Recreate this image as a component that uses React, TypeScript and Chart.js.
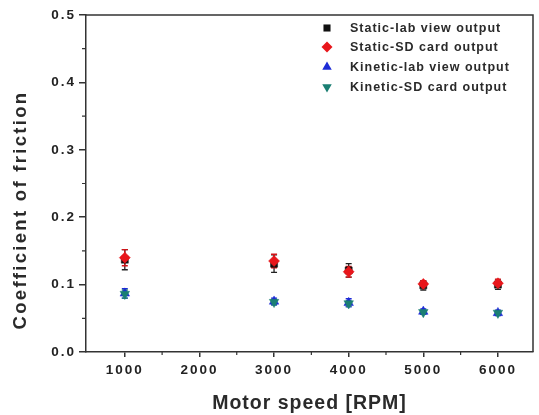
import React, { useEffect, useRef } from 'react';
import { Chart, registerables } from 'chart.js';

Chart.register(...registerables);

const FONT = '"Liberation Sans", Arial, Helvetica, sans-serif';

// ---- data ----
const motorSpeeds = [1000, 3000, 4000, 5000, 6000];

const seriesLabels = [
  'Static-lab view output',
  'Static-SD card output',
  'Kinetic-lab view output',
  'Kinetic-SD card output',
];

const staticLab = [0.137, 0.131, 0.121, 0.099, 0.1];
const staticLabErr = [0.015, 0.013, 0.01, 0.007, 0.007];
const staticSD = [0.14, 0.135, 0.119, 0.101, 0.102];
const staticSDErr = [0.012, 0.01, 0.008, 0.005, 0.006];
const kineticLab = [0.087, 0.075, 0.073, 0.06, 0.058];
const kineticLabErr = [0.007, 0.005, 0.006, 0.004, 0.004];
const kineticSD = [0.086, 0.074, 0.072, 0.059, 0.058];
const kineticSDErr = [0.006, 0.004, 0.004, 0.003, 0.003];

const yMajorTicks = [0, 0.1, 0.2, 0.3, 0.4, 0.5];
const yMinorTicks = [0.05, 0.15, 0.25, 0.35, 0.45];
const xMajorTicks = [1000, 2000, 3000, 4000, 5000, 6000];
const xMinorTicks = [1500, 2500, 3500, 4500, 5500];

const xTitle = 'Motor speed [RPM]';
const yTitle = 'Coefficient of friction';

// ---- styles ----
const seriesValues = [staticLab, staticSD, kineticLab, kineticSD];
const seriesErrors = [staticLabErr, staticSDErr, kineticLabErr, kineticSDErr];
const colors = ['#111111', '#e8161b', '#1d2bd6', '#1b7f73'];
const errColors = ['#222222', '#d01418', '#1d2bd6', '#1b7f73'];
const pointStyles = ['rect', 'rectRot', 'triangle', 'triangle'];
const rotations = [0, 0, 0, 180];
const radii = [5, 5.5, 5.5, 5.5];
const drawOrder = [1, 0, 3, 2];

function drawMarker(ctx: CanvasRenderingContext2D, style: string, rot: number, x: number, y: number, r: number, color: string) {
  ctx.save();
  ctx.fillStyle = color;
  ctx.translate(x, y);
  ctx.rotate((rot * Math.PI) / 180);
  ctx.beginPath();
  if (style === 'rect') {
    const s = r * Math.SQRT1_2;
    ctx.rect(-s, -s, 2 * s, 2 * s);
  } else if (style === 'rectRot') {
    ctx.moveTo(0, -r);
    ctx.lineTo(r, 0);
    ctx.lineTo(0, r);
    ctx.lineTo(-r, 0);
    ctx.closePath();
  } else {
    ctx.moveTo(0, -r);
    ctx.lineTo(r * Math.sin(Math.PI / 3), r * 0.5);
    ctx.lineTo(-r * Math.sin(Math.PI / 3), r * 0.5);
    ctx.closePath();
  }
  ctx.fill();
  ctx.restore();
}

const customPlugin = {
  id: 'custom',
  beforeDraw(chart: any) {
    (chart.ctx as any).letterSpacing = '2px';
  },
  beforeDatasetsDraw(chart: any) {
    const ctx: CanvasRenderingContext2D = chart.ctx;
    const xs = chart.scales.x;
    const ys = chart.scales.y;
    ctx.save();
    ctx.lineWidth = 1.3;
    [0, 1, 2, 3].forEach((i) => {
      ctx.strokeStyle = errColors[i];
      motorSpeeds.forEach((sp, j) => {
        const v = seriesValues[i][j];
        const e = seriesErrors[i][j];
        const px = xs.getPixelForValue(sp);
        const top = ys.getPixelForValue(v + e);
        const bot = ys.getPixelForValue(v - e);
        ctx.beginPath();
        ctx.moveTo(px, top);
        ctx.lineTo(px, bot);
        ctx.moveTo(px - 3, top);
        ctx.lineTo(px + 3, top);
        ctx.moveTo(px - 3, bot);
        ctx.lineTo(px + 3, bot);
        ctx.stroke();
      });
    });
    ctx.restore();
  },
  afterDraw(chart: any) {
    const ctx: CanvasRenderingContext2D = chart.ctx;
    const { left, right, top, bottom } = chart.chartArea;
    const xs = chart.scales.x;
    const ys = chart.scales.y;
    ctx.save();
    ctx.strokeStyle = '#333333';
    ctx.lineWidth = 1.5;
    // frame top & right
    ctx.beginPath();
    ctx.moveTo(left, top);
    ctx.lineTo(right, top);
    ctx.lineTo(right, bottom);
    ctx.stroke();
    // minor ticks
    ctx.lineWidth = 1.2;
    ctx.beginPath();
    yMinorTicks.forEach((v) => {
      const py = ys.getPixelForValue(v);
      ctx.moveTo(left - 4, py);
      ctx.lineTo(left, py);
    });
    xMinorTicks.forEach((v) => {
      const px = xs.getPixelForValue(v);
      ctx.moveTo(px, bottom);
      ctx.lineTo(px, bottom + 3);
    });
    ctx.stroke();

    // axis titles
    ctx.fillStyle = '#2a2a2a';
    ctx.textAlign = 'center';
    ctx.textBaseline = 'middle';
    (ctx as any).letterSpacing = '1px';
    ctx.font = `bold 19.5px ${FONT}`;
    ctx.fillText(xTitle, (left + right) / 2, 404);

    ctx.save();
    ctx.translate(21, 210);
    ctx.rotate(-Math.PI / 2);
    (ctx as any).letterSpacing = '2.3px';
    ctx.font = `bold 18.5px ${FONT}`;
    ctx.fillText(yTitle, 0, 0);
    ctx.restore();

    // legend
    const rowsY = [28, 47, 67, 87];
    (ctx as any).letterSpacing = '1px';
    ctx.font = `bold 12.5px ${FONT}`;
    ctx.textAlign = 'left';
    seriesLabels.forEach((lab, i) => {
      drawMarker(ctx, pointStyles[i], rotations[i], 327, rowsY[i], i === 0 ? 5 : 5.5, colors[i]);
      ctx.fillStyle = '#2a2a2a';
      ctx.fillText(lab, 350, rowsY[i] + 1);
    });
    ctx.restore();
  },
};

export default function App() {
  const ref = useRef<HTMLCanvasElement>(null);
  useEffect(() => {
    const datasets = seriesLabels.map((label, i) => ({
      label,
      data: motorSpeeds.map((x, j) => ({ x, y: seriesValues[i][j] })),
      showLine: false,
      pointStyle: pointStyles[i] as any,
      rotation: rotations[i],
      pointRadius: radii[i],
      pointHoverRadius: radii[i],
      backgroundColor: colors[i],
      borderColor: colors[i],
      pointBorderWidth: 0.5,
      order: drawOrder[i],
    }));
    const tickFont = { family: FONT, size: 13.5, weight: 'bold' as const };
    const chart = new Chart(ref.current!, {
      type: 'scatter',
      data: { datasets },
      plugins: [customPlugin],
      options: {
        animation: false,
        responsive: true,
        maintainAspectRatio: false,
        layout: { padding: { top: 15, right: 2, left: 0, bottom: 0 } },
        plugins: { legend: { display: false }, tooltip: { enabled: false } },
        scales: {
          x: {
            type: 'linear',
            position: 'bottom',
            min: 480,
            max: 6470,
            afterBuildTicks: (s: any) => {
              s.ticks = xMajorTicks.map((v) => ({ value: v }));
            },
            afterFit: (s: any) => {
              s.height = 63;
            },
            ticks: {
              font: tickFont,
              color: '#222222',
              padding: 5,
              maxRotation: 0,
              autoSkip: false,
              callback: (v: any) => String(v),
            },
            grid: { drawOnChartArea: false, drawTicks: true, tickLength: 5, color: '#333333', lineWidth: 1.5 },
            border: { display: true, color: '#333333', width: 1.5 },
          },
          y: {
            type: 'linear',
            min: 0,
            max: 0.5,
            afterBuildTicks: (s: any) => {
              s.ticks = yMajorTicks.map((v) => ({ value: v }));
            },
            afterFit: (s: any) => {
              s.width = 86;
            },
            ticks: {
              font: tickFont,
              color: '#222222',
              padding: 3,
              autoSkip: false,
              callback: (v: any) => Number(v).toFixed(1),
            },
            grid: { drawOnChartArea: false, drawTicks: true, tickLength: 7, color: '#333333', lineWidth: 1.5 },
            border: { display: true, color: '#333333', width: 1.5 },
          },
        },
      },
    });
    return () => chart.destroy();
  }, []);
  return (
    <div style={{ position: 'fixed', left: 0, top: 0, width: 539, height: 415, background: '#ffffff' }}>
      <canvas ref={ref} />
    </div>
  );
}
